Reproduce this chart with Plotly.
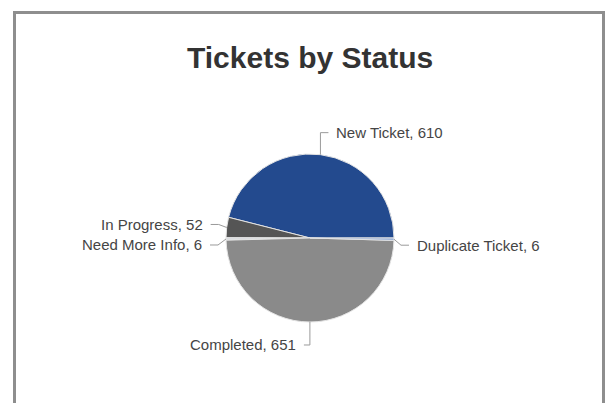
import math
import plotly.graph_objects as go

# ---- data ----
statuses = ["New Ticket", "In Progress", "Need More Info", "Completed", "Duplicate Ticket"]
counts = [610, 52, 6, 651, 6]
colors = ["#234a8e", "#555555", "#d6d9de", "#8a8a8a", "#8fa9d6"]
title_text = "Tickets by Status"

# ---- layout (pixels) ----
W, H = 608, 403
CX, CY, R = 310.0, 238.0, 84.0

# leader style per label: (kind, elbow dx, elbow dy, horizontal length)
leader = {
    "New Ticket": ("up", 0, -22, 8),
    "In Progress": ("left", -8, -3, 8),
    "Need More Info": ("left", -8, 6, 8),
    "Completed": ("down", 0, 23, -6),
    "Duplicate Ticket": ("right", 7, 6, 8),
}

def px(x):
    return x / W

def py(y):
    return 1 - y / H

total = sum(counts)
# first slice runs counterclockwise from 3 o'clock
rotation = 90 - 360.0 * counts[0] / total

fig = go.Figure()
fig.add_trace(go.Pie(
    labels=statuses, values=counts, sort=False,
    direction="counterclockwise", rotation=rotation,
    marker=dict(colors=colors, line=dict(color="#e4e4e4", width=1)),
    textinfo="none", hoverinfo="label+value",
    domain=dict(x=[px(CX - R), px(CX + R)], y=[py(CY + R), py(CY - R)]),
    showlegend=False,
))

shapes = []
annotations = []
cum = 0.0
line_col = "#9a9a9a"
lab_font = dict(family="Liberation Sans, Arial, sans-serif", size=15, color="#454545")
for name, v in zip(statuses, counts):
    mid = (cum + v / 2) / total * 2 * math.pi
    cum += v
    ex = CX + R * math.cos(mid)
    ey = CY - R * math.sin(mid)
    kind, dx, dy, hl = leader[name]
    bx, by = ex + dx, ey + dy
    if kind in ("up", "down"):
        tx, ty = bx + hl, by
        xanchor = "left" if hl > 0 else "right"
        textx = tx + (6 if hl > 0 else -6)
    else:
        sgn = 1 if kind == "right" else -1
        tx, ty = bx + sgn * hl, by
        xanchor = "left" if sgn > 0 else "right"
        textx = tx + sgn * 6
    shapes.append(dict(type="path", xref="paper", yref="paper",
                       path=f"M {px(ex)} {py(ey)} L {px(bx)} {py(by)} L {px(tx)} {py(ty)}",
                       line=dict(color=line_col, width=1)))
    annotations.append(dict(
        x=px(textx), y=py(ty), xref="paper", yref="paper",
        text=f"{name}, {v}", showarrow=False, xanchor=xanchor, yanchor="middle",
        font=lab_font,
    ))

# frame
shapes.append(dict(type="rect", xref="paper", yref="paper",
                   x0=px(14.5), x1=px(603.5), y0=py(420), y1=py(12.5),
                   line=dict(color="#8e8e8e", width=3), layer="below"))

annotations.append(dict(
    x=px(310), y=py(57), xref="paper", yref="paper", text=f"<b>{title_text}</b>",
    showarrow=False, xanchor="center", yanchor="middle",
    font=dict(family="Liberation Sans, Arial, sans-serif", size=30, color="#333333"),
))

fig.update_layout(
    width=W, height=H, margin=dict(l=0, r=0, t=0, b=0),
    paper_bgcolor="white", plot_bgcolor="white",
    shapes=shapes, annotations=annotations,
)
fig.write_html("out.html", config={"displayModeBar": False},
               post_script="document.body.style.margin='0';")
